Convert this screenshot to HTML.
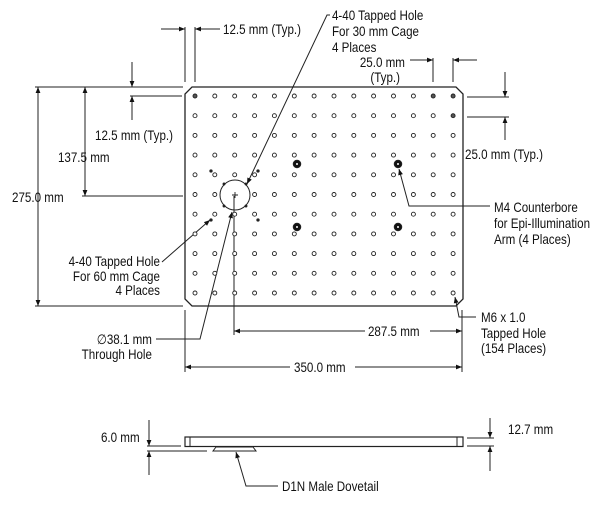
<!DOCTYPE html>
<html><head><meta charset="utf-8"><style>
html,body{margin:0;padding:0;background:#fff;width:600px;height:525px;overflow:hidden}
svg text{font-family:"Liberation Sans",sans-serif;font-size:13.5px;fill:#111}
</style></head><body>
<svg width="600" height="525" viewBox="0 0 600 525" xmlns="http://www.w3.org/2000/svg">
<defs>
<marker id="a" viewBox="0 0 10 10" refX="10" refY="5" markerWidth="8" markerHeight="6" orient="auto-start-reverse" markerUnits="userSpaceOnUse"><path d="M0,1 L10,5 L0,9 z" fill="#111"/></marker>
</defs>
<g stroke="#222" fill="none" stroke-width="1">
<path d="M192,87 L456,87 L463,94 L463,299 L456,306 L192,306 L185,299 L185,94 Z" stroke-width="1.3"/>
<path d="M185,27 V82 M195,27 V82"/>
<path d="M161,29 H185" marker-end="url(#a)"/>
<path d="M220,29 H195" marker-end="url(#a)"/>
<path d="M35,87 H183 M130,96 H182 M82,196 H183 M35,306 H183"/>
<path d="M132,62 V87" marker-end="url(#a)"/>
<path d="M132,120 V96" marker-end="url(#a)"/>
<path d="M85,87 V196" marker-start="url(#a)" marker-end="url(#a)"/>
<path d="M38,87 V306" marker-start="url(#a)" marker-end="url(#a)"/>
<path d="M433,58 V82 M453,58 V82"/>
<path d="M410,60 H433" marker-end="url(#a)"/>
<path d="M477,60 H453" marker-end="url(#a)"/>
<path d="M467,97 H509 M467,117 H509"/>
<path d="M505,72 V97" marker-end="url(#a)"/>
<path d="M505,140 V117" marker-end="url(#a)"/>
<path d="M330,15 H327 L247,184" marker-end="url(#a)"/>
<path d="M490,206 H409 L399,169" marker-end="url(#a)"/>
<path d="M476,317 H459 L455,297" marker-end="url(#a)"/>
<path d="M162,262 L210,220" marker-end="url(#a)"/>
<path d="M156,339 H200 L232,212" marker-end="url(#a)"/>
<path d="M234,196 V335 M462,310 V372 M185,310 V372"/>
<path d="M365,331 H234" marker-end="url(#a)"/>
<path d="M430,331 H462" marker-end="url(#a)"/>
<path d="M290,367 H185" marker-end="url(#a)"/>
<path d="M355,367 H462" marker-end="url(#a)"/>
<rect x="185" y="437" width="278" height="9.5" stroke-width="1.2"/>
<path d="M190,437 V446.5 M457,437 V446.5"/>
<path d="M216,447 H253 L256,451 H213 Z"/>
<path d="M147,446 H181 M147,451 H207"/>
<path d="M149,420 V446" marker-end="url(#a)"/>
<path d="M149,475 V451" marker-end="url(#a)"/>
<path d="M467,438 H494 M467,446 H494"/>
<path d="M490,418 V438" marker-end="url(#a)"/>
<path d="M490,471 V446" marker-end="url(#a)"/>
<path d="M278,486 H246 L236,452" marker-end="url(#a)"/>
</g>
<g id="labels">
<text x="223" y="34">12.5 mm (Typ.)</text>
<text x="332" y="20">4-40 Tapped Hole</text>
<text x="332" y="36">For 30 mm Cage</text>
<text x="332" y="52">4 Places</text>
<text x="405" y="67" text-anchor="end">25.0 mm</text>
<text x="400" y="82" text-anchor="end">(Typ.)</text>
<text x="95" y="140">12.5 mm (Typ.)</text>
<text x="58" y="162">137.5 mm</text>
<text x="12" y="202">275.0 mm</text>
<text x="465" y="159">25.0 mm (Typ.)</text>
<text x="494" y="212">M4 Counterbore</text>
<text x="494" y="228">for Epi-Illumination</text>
<text x="494" y="244">Arm (4 Places)</text>
<text x="160" y="266" text-anchor="end">4-40 Tapped Hole</text>
<text x="160" y="281" text-anchor="end">For 60 mm Cage</text>
<text x="160" y="295" text-anchor="end">4 Places</text>
<text x="481" y="322">M6 x 1.0</text>
<text x="481" y="338">Tapped Hole</text>
<text x="481" y="353">(154 Places)</text>
<text x="368" y="336">287.5 mm</text>
<text x="294" y="372">350.0 mm</text>
<text x="152" y="344" text-anchor="end">∅38.1 mm</text>
<text x="152" y="359" text-anchor="end">Through Hole</text>
<text x="101" y="442">6.0 mm</text>
<text x="508" y="434">12.7 mm</text>
<text x="282" y="491">D1N Male Dovetail</text>
</g>
<g id="grid" stroke="#222" stroke-width="0.9" fill="#fff"></g>
<g stroke="#222" stroke-width="0.9" fill="#fff">
<circle cx="235" cy="195" r="15" fill="none" stroke-width="1"/>
<path d="M232,195 h6 M235,192 v6" fill="none"/>
<circle cx="297" cy="164" r="3.8" fill="#111"/>
<circle cx="398" cy="164" r="3.8" fill="#111"/>
<circle cx="297" cy="227" r="3.8" fill="#111"/>
<circle cx="398" cy="227" r="3.8" fill="#111"/>
<circle cx="297" cy="164" r="1" fill="#fff" stroke="none"/>
<circle cx="398" cy="164" r="1" fill="#fff" stroke="none"/>
<circle cx="297" cy="227" r="1" fill="#fff" stroke="none"/>
<circle cx="398" cy="227" r="1" fill="#fff" stroke="none"/>
<circle cx="211" cy="171" r="1.2" fill="#222"/>
<circle cx="258" cy="171" r="1.2" fill="#222"/>
<circle cx="211" cy="220" r="1.2" fill="#222"/>
<circle cx="258" cy="220" r="1.2" fill="#222"/>
<circle cx="224" cy="184" r="1" fill="#222"/>
<circle cx="246" cy="184" r="1" fill="#222"/>
<circle cx="224" cy="206" r="1" fill="#222"/>
<circle cx="246" cy="206" r="1" fill="#222"/>
</g>
</svg>
<script>
var g=document.getElementById('grid'),ns='http://www.w3.org/2000/svg';
for(var r=0;r<11;r++)for(var c=0;c<14;c++){
 var x=195+c*19.85,y=96+r*19.7;
 if(Math.hypot(x-235,y-195)<16)continue;
 var e=document.createElementNS(ns,'circle');
 e.setAttribute('cx',x.toFixed(1));e.setAttribute('cy',y.toFixed(1));e.setAttribute('r','2');
 if((r==0&&(c==0||c==12||c==13))||(r==1&&c==13))e.setAttribute('fill','#555');
 g.appendChild(e);
}
var s=0.86,ts=document.querySelectorAll('#labels text');
for(var i=0;i<ts.length;i++){var t=ts[i];t.setAttribute('x',(parseFloat(t.getAttribute('x'))/s).toFixed(1));t.setAttribute('transform','scale('+s+',1)');}
</script>
</body></html>
